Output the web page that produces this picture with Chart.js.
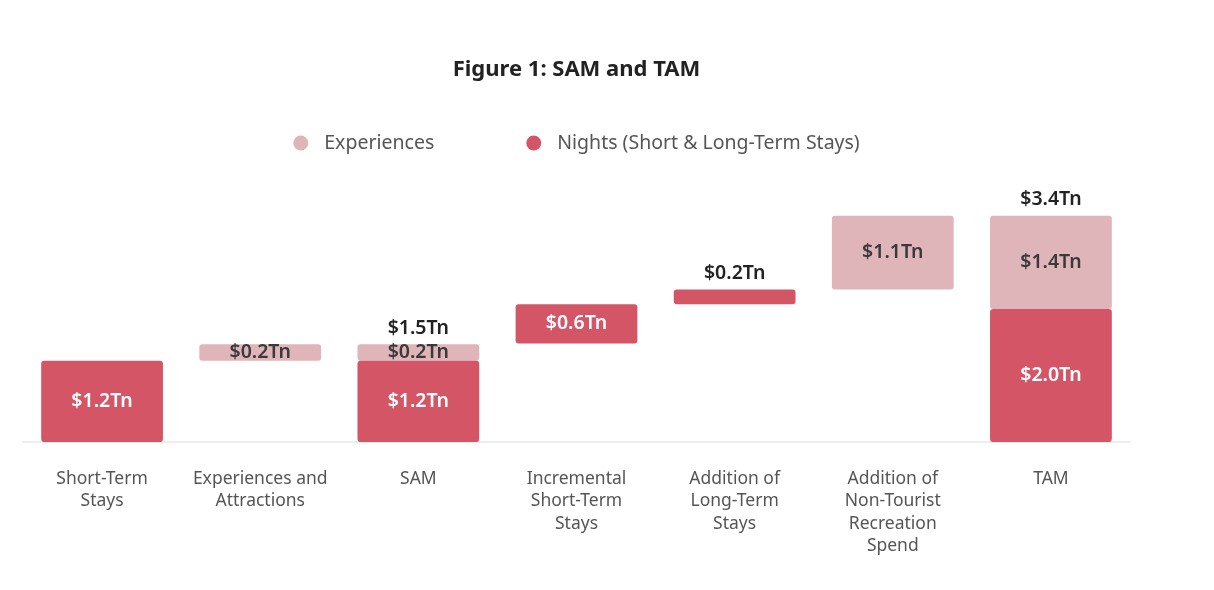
<!DOCTYPE html>
<html>
<head>
<meta charset="utf-8">
<script src="https://cdn.jsdelivr.net/npm/chart.js@4"></script>
<style>
  html, body { margin: 0; padding: 0; background: #fff; }
  #wrap { width: 1214px; height: 590px; }
</style>
</head>
<body>
<div id="wrap"><canvas id="chart" width="1214" height="590"></canvas></div>
<script>
// Categories (multi-line labels)
const categories = [
  ['Short-Term', 'Stays'],
  ['Experiences and', 'Attractions'],
  ['SAM'],
  ['Incremental', 'Short-Term', 'Stays'],
  ['Addition of', 'Long-Term', 'Stays'],
  ['Addition of', 'Non-Tourist', 'Recreation', 'Spend'],
  ['TAM']
];

// Floating bar ranges [start, end] in $Tn
const nightsRanges = [[0, 1.22], null, [0, 1.22], [1.48, 2.07], [2.07, 2.29], null, [0, 2.0]];
const experienceRanges = [null, [1.22, 1.47], [1.22, 1.47], null, null, [2.29, 3.4], [2.0, 3.4]];

// Text labels
const nightsLabels = ['$1.2Tn', null, '$1.2Tn', '$0.6Tn', null, null, '$2.0Tn'];
const experienceLabels = [null, '$0.2Tn', '$0.2Tn', null, null, '$1.1Tn', '$1.4Tn'];
const topLabels = [null, null, '$1.5Tn', null, '$0.2Tn', null, '$3.4Tn'];

// Legend entries, in display order
const legendNames = ['Experiences', 'Nights (Short & Long-Term Stays)'];

const NIGHTS_COLOR = '#d35566';
const EXP_COLOR = '#dfb5b9';
const FONT = "'Noto Sans', sans-serif";

// Draws value labels inside / above the bars
const barLabels = {
  id: 'barLabels',
  afterDatasetsDraw(chart) {
    const ctx = chart.ctx;
    ctx.save();
    ctx.font = '600 19.5px ' + FONT;
    ctx.textAlign = 'center';
    ctx.textBaseline = 'middle';
    const texts = [nightsLabels, experienceLabels];
    const colors = ['#ffffff', '#3a3a3a'];
    chart.data.datasets.forEach((ds, di) => {
      const meta = chart.getDatasetMeta(di);
      meta.data.forEach((bar, i) => {
        const t = texts[di][i];
        if (!t) return;
        ctx.fillStyle = colors[di];
        ctx.fillText(t, bar.x, (bar.y + bar.base) / 2);
      });
    });
    // totals above bars
    ctx.fillStyle = '#222222';
    topLabels.forEach((t, i) => {
      if (!t) return;
      let top = Infinity, x = 0;
      chart.data.datasets.forEach((ds, di) => {
        const bar = chart.getDatasetMeta(di).data[i];
        if (ds.data[i] && bar) {
          top = Math.min(top, bar.y, bar.base);
          x = bar.x;
        }
      });
      ctx.fillText(t, x, top - 16);
    });
    ctx.restore();
  }
};

// Simple legend with wide spacing between the two entries
const wideLegend = {
  id: 'wideLegend',
  afterDraw(chart) {
    const ctx = chart.ctx;
    const colors = [EXP_COLOR, NIGHTS_COLOR];
    const r = 7.5, gap = 16, itemGap = 92, y = 143;
    ctx.save();
    ctx.font = '19.5px ' + FONT;
    ctx.textBaseline = 'middle';
    const widths = legendNames.map(n => 2 * r + gap + ctx.measureText(n).width);
    const total = widths.reduce((a, b) => a + b, 0) + itemGap;
    let x = (chart.chartArea.left + chart.chartArea.right) / 2 - total / 2;
    legendNames.forEach((name, i) => {
      ctx.fillStyle = colors[i];
      ctx.beginPath();
      ctx.arc(x + r, y, r, 0, Math.PI * 2);
      ctx.fill();
      ctx.fillStyle = '#555555';
      ctx.fillText(name, x + 2 * r + gap, y);
      x += widths[i] + itemGap;
    });
    ctx.restore();
  }
};

new Chart(document.getElementById('chart'), {
  type: 'bar',
  data: {
    labels: categories,
    datasets: [
      {
        label: 'Nights (Short & Long-Term Stays)',
        data: nightsRanges,
        backgroundColor: NIGHTS_COLOR,
        borderRadius: 3,
        borderSkipped: false,
        grouped: false,
        barPercentage: 0.77,
        categoryPercentage: 1.0,
        order: 1
      },
      {
        label: 'Experiences',
        data: experienceRanges,
        backgroundColor: EXP_COLOR,
        borderRadius: 3,
        borderSkipped: false,
        grouped: false,
        barPercentage: 0.77,
        categoryPercentage: 1.0,
        order: 2
      }
    ]
  },
  options: {
    responsive: false,
    animation: false,
    layout: { padding: { left: 23, right: 84, top: 0, bottom: 7 } },
    plugins: {
      title: {
        display: true,
        text: 'Figure 1: SAM and TAM',
        color: '#222222',
        font: { family: FONT, size: 22, weight: 'bold' },
        padding: { top: 57, bottom: 119 }
      },
      legend: { display: false },
      tooltip: { enabled: false }
    },
    scales: {
      x: {
        grid: { display: false, drawTicks: false },
        border: { display: true, color: '#eeeeee', width: 2 },
        ticks: {
          color: '#555555',
          font: { family: FONT, size: 17.5, lineHeight: 1.27 },
          padding: 26,
          maxRotation: 0
        }
      },
      y: {
        display: false,
        min: 0,
        max: 3.6
      }
    }
  },
  plugins: [barLabels, wideLegend]
});
</script>
</body>
</html>
